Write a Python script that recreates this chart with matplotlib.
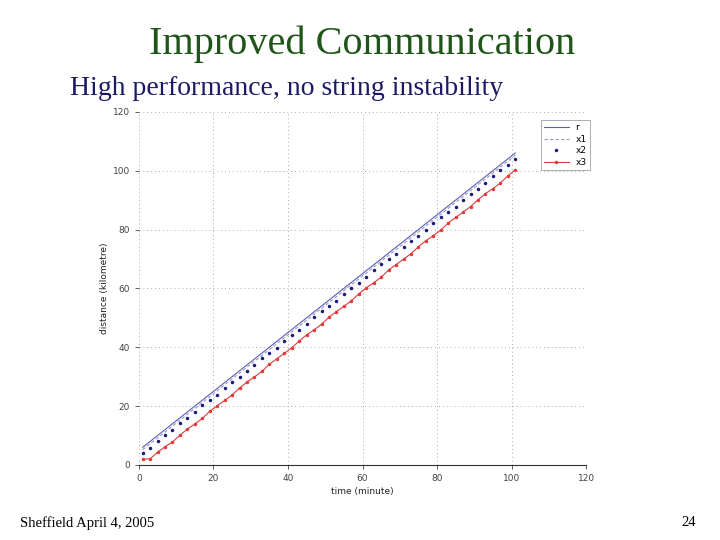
import matplotlib.pyplot as plt

# sample times (minute) and positions (kilometre)
time = [1, 3, 5, 7, 9, 11, 13, 15, 17, 19, 21, 23, 25, 27, 29, 31, 33, 35, 37, 39,
        41, 43, 45, 47, 49, 51, 53, 55, 57, 59, 61, 63, 65, 67, 69, 71, 73, 75, 77, 79,
        81, 83, 85, 87, 89, 91, 93, 95, 97, 99, 101]
r = [6, 8, 10, 12, 14, 16, 18, 20, 22, 24, 26, 28, 30, 32, 34, 36, 38, 40, 42, 44,
     46, 48, 50, 52, 54, 56, 58, 60, 62, 64, 66, 68, 70, 72, 74, 76, 78, 80, 82, 84,
     86, 88, 90, 92, 94, 96, 98, 100, 102, 104, 106]
x1 = [5.2, 7.2, 9.2, 11.2, 13.2, 15.2, 17.2, 19.2, 21.2, 23.2, 25.2, 27.2, 29.2, 31.2,
      33.2, 35.2, 37.2, 39.2, 41.2, 43.2, 45.2, 47.2, 49.2, 51.2, 53.2, 55.2, 57.2, 59.2,
      61.2, 63.2, 65.2, 67.2, 69.2, 71.2, 73.2, 75.2, 77.2, 79.2, 81.2, 83.2, 85.2, 87.2,
      89.2, 91.2, 93.2, 95.2, 97.2, 99.2, 101.2, 103.2, 105.2]
x2 = [4.2, 5.8, 8.1, 10.3, 11.8, 14.2, 16.1, 17.9, 20.2, 22.0, 23.8, 26.1, 28.2, 29.9,
      31.8, 34.1, 36.2, 37.9, 39.8, 42.1, 44.2, 45.9, 47.8, 50.1, 52.2, 54.0, 55.8, 58.1,
      60.2, 61.9, 63.8, 66.1, 68.2, 70.0, 71.8, 74.1, 76.2, 77.9, 79.8, 82.1, 84.2, 86.0,
      87.8, 90.1, 92.2, 93.9, 95.8, 98.1, 100.2, 101.9, 103.8]
x3 = [1.9, 2.1, 4.3, 6.2, 7.8, 10.1, 12.2, 13.9, 15.8, 18.2, 20.1, 21.9, 23.8, 26.1,
      28.2, 29.9, 31.8, 34.2, 36.1, 37.9, 39.8, 42.1, 44.2, 45.9, 47.8, 50.2, 52.1, 53.9,
      55.8, 58.1, 60.2, 61.9, 63.8, 66.2, 68.1, 69.9, 71.8, 74.1, 76.2, 77.9, 79.8, 82.2,
      84.1, 85.9, 87.8, 90.1, 92.2, 93.9, 95.8, 98.2, 100.3]

ticks = [0, 20, 40, 60, 80, 100, 120]

fig = plt.figure(figsize=(7.2, 5.4), dpi=100)

# slide texts
fig.text(0.503, 0.918, 'Improved Communication', family='Liberation Serif',
         fontsize=29, color='#1f5519', ha='center', va='center')
fig.text(0.097, 0.837, 'High performance, no string instability', family='Liberation Serif',
         fontsize=20, color='#1c1a66', ha='left', va='center')
fig.text(0.028, 0.032, 'Sheffield April 4, 2005', family='Liberation Serif',
         fontsize=10.5, color='black', ha='left', va='center')
fig.text(0.966, 0.032, '24', family='Liberation Serif',
         fontsize=10.5, color='black', ha='right', va='center')

ax = fig.add_axes([0.193, 0.139, 0.621, 0.654])
ax.plot(time, r, '-', color='#5b5fb5', lw=0.8, label='r')
ax.plot(time, x1, '--', color='#9498c4', lw=0.8, dashes=(3, 2), label='x1')
ax.plot(time, x2, '.', color='#1b1b7e', ms=3, label='x2')
ax.plot(time, x3, '.-', color='#e03c3c', lw=0.8, ms=3, label='x3')

ax.set_xlim(0, 120)
ax.set_ylim(0, 120)
ax.set_xticks(ticks)
ax.set_yticks(ticks)
ax.grid(True, linestyle=(0, (1, 3)), color='#a8a8a8', lw=0.7)
for s in ['top', 'right', 'left']:
    ax.spines[s].set_visible(False)
ax.spines['bottom'].set_color('#333333')
ax.spines['bottom'].set_linewidth(0.8)
ax.tick_params(labelsize=6.5, colors='#444444', length=3, width=0.6)
ax.set_xlabel('time (minute)', fontsize=6.5, color='#222222', labelpad=3)
ax.set_ylabel('distance (kilometre)', fontsize=6.5, color='#222222', labelpad=3)

leg = ax.legend(loc='upper right', bbox_to_anchor=(1.018, 0.99), fontsize=6.5,
                frameon=True, fancybox=False, handlelength=2.8, borderpad=0.35,
                labelspacing=0.3, handletextpad=0.7)
leg.get_frame().set_edgecolor('#888888')
leg.get_frame().set_linewidth(0.6)

fig.savefig('out.png', dpi=100)
